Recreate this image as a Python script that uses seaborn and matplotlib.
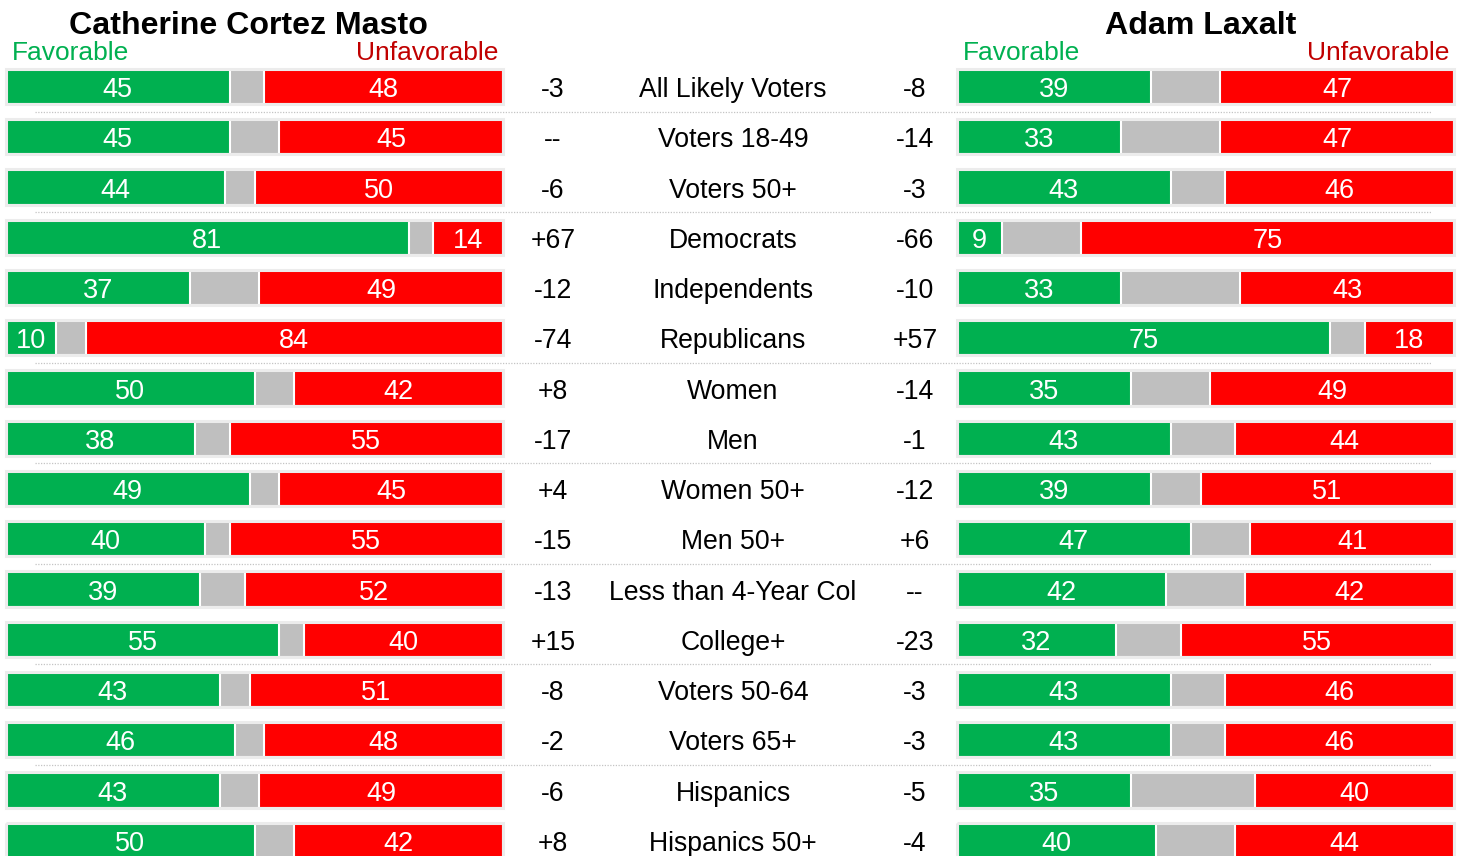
import numpy as np
import pandas as pd
import matplotlib
matplotlib.use("Agg")
import matplotlib.pyplot as plt
import seaborn as sns

# ---------------------- DATA ----------------------

groups = ["All Likely Voters", "Voters 18-49", "Voters 50+", "Democrats",
          "Independents", "Republicans", "Women", "Men", "Women 50+", "Men 50+",
          "Less than 4-Year Col", "College+", "Voters 50-64", "Voters 65+",
          "Hispanics", "Hispanics 50+"]

ccm_fav = [45, 45, 44, 81, 37, 10, 50, 38, 49, 40, 39, 55, 43, 46, 43, 50]
ccm_unfav = [48, 45, 50, 14, 49, 84, 42, 55, 45, 55, 52, 40, 51, 48, 49, 42]

lax_fav = [39, 33, 43, 9, 33, 75, 35, 43, 39, 47, 42, 32, 43, 43, 35, 40]
lax_unfav = [47, 47, 46, 75, 43, 18, 49, 44, 51, 41, 42, 55, 46, 46, 40, 44]

# rows that get a dotted divider underneath
dividers = [0, 2, 5, 7, 9, 11, 13]

GREEN = "#00b050"
RED = "#ff0000"
GRAY = "#bfbfbf"
FRAME = "#ececec"

sns.set_style("white")
plt.rcParams["font.family"] = ["Liberation Sans", "DejaVu Sans"]
plt.rcParams["text.color"] = "black"

W, H = 1468, 856
fig = plt.figure(figsize=(W / 100, H / 100), dpi=100)

# vertical extent: row 0 centred at 86.5px, pitch 50.25px
pitch = 50.25
top_px = 86.5 - pitch / 2
bot_px = top_px + pitch * len(groups)
ax_bottom = 1 - bot_px / H
ax_height = (bot_px - top_px) / H
n = len(groups)
base_off = 0.21  # baseline offset so caps sit centred on a row


def net_label(f, u):
    d = f - u
    return "--" if d == 0 else f"{d:+d}"


def draw_panel(ax, fav, unfav):
    df = pd.DataFrame({"group": groups, "fav": fav, "unfav": unfav})
    df["fav_unsure"] = 100 - df["unfav"]
    df["total"] = 100
    common = dict(y="group", data=df, order=groups, orient="h", width=0.7,
                  saturation=1, edgecolor="white", linewidth=1.5,
                  errorbar=None, ax=ax)
    sns.barplot(x="total", color=RED, **common)
    sns.barplot(x="fav_unsure", color=GRAY, **common)
    sns.barplot(x="fav", color=GREEN, **common)
    frame = ax.barh(np.arange(n), df["total"], height=0.7, facecolor="none",
                    edgecolor=FRAME, linewidth=2.2, zorder=3)
    for p in frame:
        p.set_clip_on(False)
    for i, (f, u) in enumerate(zip(fav, unfav)):
        ax.text(f / 2, i + base_off, str(f), ha="center", va="baseline",
                color="white", fontsize=19.5, zorder=4)
        ax.text(100 - u / 2, i + base_off, str(u), ha="center", va="baseline",
                color="white", fontsize=19.5, zorder=4)
    ax.set_xlim(0, 100)
    ax.set_ylim(n - 0.5, -0.5)
    ax.axis("off")


# background axes in pixel units for dividers and centre labels
ax_mid = fig.add_axes([0, ax_bottom, 1, ax_height], zorder=0)
ax_mid.set_xlim(0, W)
ax_mid.set_ylim(n - 0.5, -0.5)
ax_mid.axis("off")
ax_mid.hlines([d + 0.5 for d in dividers], 35, 1432, colors="#c4c4c4",
              linestyles=(0, (1, 1.2)), linewidth=0.9)
for i, g in enumerate(groups):
    ax_mid.text(733, i + base_off, g, ha="center", va="baseline",
                fontsize=19.2)
    ax_mid.text(553, i + base_off, net_label(ccm_fav[i], ccm_unfav[i]),
                ha="center", va="baseline", fontsize=19.2)
    ax_mid.text(915, i + base_off, net_label(lax_fav[i], lax_unfav[i]),
                ha="center", va="baseline", fontsize=19.2)

ax_left = fig.add_axes([6 / W, ax_bottom, 497 / W, ax_height], zorder=1)
ax_left.patch.set_alpha(0)
draw_panel(ax_left, ccm_fav, ccm_unfav)

ax_right = fig.add_axes([957 / W, ax_bottom, 497 / W, ax_height], zorder=1)
ax_right.patch.set_alpha(0)
draw_panel(ax_right, lax_fav, lax_unfav)

# headers
title_y = 1 - 34.3 / H
sub_y = 1 - 60 / H
fig.text(248 / W, title_y, "Catherine Cortez Masto", ha="center", va="baseline",
         fontsize=23.1, fontweight="bold")
fig.text(1201 / W, title_y, "Adam Laxalt", ha="center", va="baseline",
         fontsize=23.1, fontweight="bold")
fig.text(12 / W, sub_y, "Favorable", ha="left", va="baseline",
         fontsize=19, color=GREEN)
fig.text(498 / W, sub_y, "Unfavorable", ha="right", va="baseline",
         fontsize=19, color="#c00000")
fig.text(963 / W, sub_y, "Favorable", ha="left", va="baseline",
         fontsize=19, color=GREEN)
fig.text(1449 / W, sub_y, "Unfavorable", ha="right", va="baseline",
         fontsize=19, color="#c00000")

fig.savefig("out.png", dpi=100)
